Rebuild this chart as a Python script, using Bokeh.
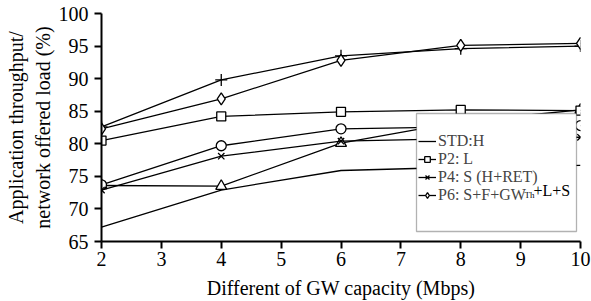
from bokeh.plotting import figure
from bokeh.models import (ColumnDataSource, Legend, LegendItem, BoxAnnotation, Label,
                          FixedTicker, Range1d)
from bokeh.embed import file_html
from bokeh.resources import INLINE

# ---- data ----
capacity = [2, 4, 6, 8, 10]
std_h = [67.2, 72.9, 75.9, 76.4, 76.7]
p2_l = [80.5, 84.2, 84.9, 85.2, 85.1]
p4_s = [72.9, 78.1, 80.4, 80.8, 81.0]
p6_all = [82.3, 86.9, 92.8, 95.1, 95.4]
p_cross = [82.6, 89.8, 93.5, 94.6, 95.0]
p_circle = [73.7, 79.7, 82.3, 82.6, 82.8]
p_triangle = [73.6, 73.5, 80.1, 83.4, 85.2]

x_ticks = [2, 3, 4, 5, 6, 7, 8, 9, 10]
y_ticks = [65, 70, 75, 80, 85, 90, 95, 100]

FONT = "Liberation Serif"

p = figure(width=591, height=301, output_backend="svg", toolbar_location=None,
           x_range=Range1d(2, 10), y_range=Range1d(65, 100),
           min_border_left=101, min_border_right=11, min_border_top=13, min_border_bottom=57)
p.outline_line_color = None
p.xgrid.visible = False
p.ygrid.visible = False
p.background_fill_color = "white"

for ax in (p.xaxis[0], p.yaxis[0]):
    ax.axis_line_width = 2
    ax.axis_line_color = "black"
    ax.major_tick_line_width = 2
    ax.major_tick_line_color = "black"
    ax.major_tick_out = 7
    ax.major_tick_in = 0
    ax.minor_tick_line_color = None
    ax.major_label_text_font = FONT
    ax.major_label_text_font_size = "20px"
    ax.major_label_text_color = "black"
    ax.axis_label_text_font = FONT
    ax.axis_label_text_font_size = "20px"
    ax.axis_label_text_font_style = "normal"
    ax.axis_label_text_color = "black"

p.xaxis.ticker = FixedTicker(ticks=x_ticks)
p.yaxis.ticker = FixedTicker(ticks=y_ticks)
p.xaxis.axis_label = "Different of GW capacity (Mbps)"
p.yaxis.axis_label = "Application throughput/\nnetwork offered load (%)"
p.xaxis.major_label_standoff = 3
p.yaxis.major_label_standoff = 6
p.xaxis.axis_label_standoff = 8
p.yaxis.axis_label_standoff = 2

LW = 1.3
src = ColumnDataSource(dict(x=capacity, std=std_h, p2=p2_l, p4=p4_s, p6=p6_all,
                            pc=p_cross, ci=p_circle, tr=p_triangle))

r_std = p.line("x", "std", source=src, line_color="black", line_width=LW)

def series(col, marker, size):
    ln = p.line("x", col, source=src, line_color="black", line_width=LW)
    mk = p.scatter("x", col, source=src, marker=marker, size=size,
                   line_color="black", line_width=LW, fill_color="white")
    return ln, mk

series("tr", "triangle", 11)
series("ci", "circle", 10)
series("pc", "cross", 12)
l2, m2 = series("p2", "square", 9)
l4, m4 = series("p4", "x", 9)
l6, m6 = series("p6", "diamond", 12)

# legend frame
box = BoxAnnotation(left=416, right=576, top=113, bottom=231,
                    left_units="canvas", right_units="canvas",
                    top_units="canvas", bottom_units="canvas",
                    fill_color="white", fill_alpha=1.0,
                    line_color="black", line_width=1.3)
p.add_layout(box)

legend = Legend(items=[
    LegendItem(label="STD:H", renderers=[r_std]),
    LegendItem(label="P2: L", renderers=[l2, m2]),
    LegendItem(label="P4: S (H+RET)", renderers=[l4, m4]),
    LegendItem(label="P6: S+F+GW", renderers=[l6, m6]),
], location=(317, 37), padding=0, spacing=0, margin=0,
    glyph_width=18, glyph_height=14, label_height=14, label_standoff=2,
    label_text_font=FONT, label_text_font_size="16px",
    border_line_color=None, background_fill_alpha=0.0)
p.add_layout(legend)

p.add_layout(Label(x=524, y=199, x_units="canvas", y_units="canvas", text="Th",
                   text_font=FONT, text_font_size="9px", text_color="black",
                   text_baseline="bottom"))
p.add_layout(Label(x=533, y=190, x_units="canvas", y_units="canvas", text="+L+S",
                   text_font=FONT, text_font_size="16px", text_color="black",
                   text_baseline="middle"))

open("out.html", "w").write(file_html(p, INLINE))
